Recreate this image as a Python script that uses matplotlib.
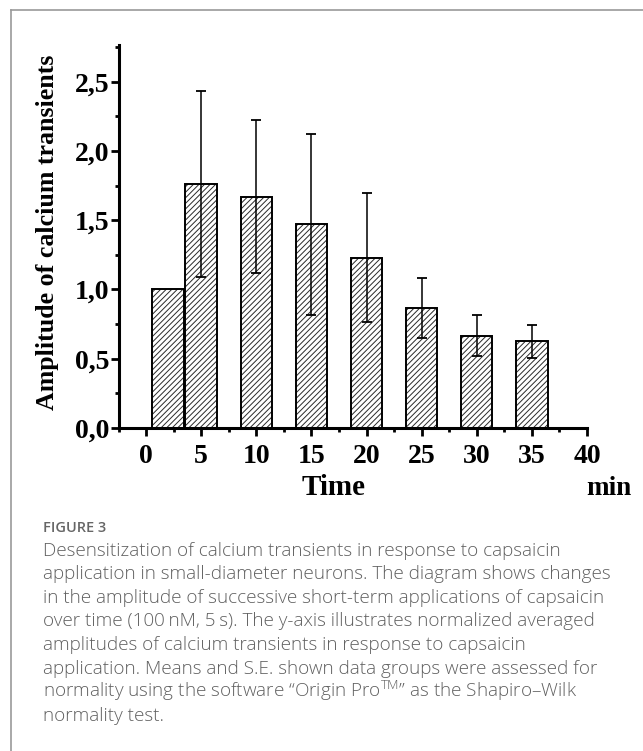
import matplotlib
matplotlib.use("Agg")
import matplotlib.pyplot as plt
from matplotlib.ticker import FixedLocator, FuncFormatter
from matplotlib.lines import Line2D
from matplotlib.font_manager import FontProperties

# ---- data ----
positions = [2, 5, 10, 15, 20, 25, 30, 35]
amplitudes = [1.00, 1.76, 1.67, 1.47, 1.23, 0.865, 0.665, 0.625]
errors = [0.0, 0.67, 0.55, 0.655, 0.467, 0.218, 0.148, 0.119]
xticks = [0, 5, 10, 15, 20, 25, 30, 35, 40]
yticks = [0.0, 0.5, 1.0, 1.5, 2.0, 2.5]

caption_title = "FIGURE 3"
caption_lines = [
    "Desensitization of calcium transients in response to capsaicin",
    "application in small-diameter neurons. The diagram shows changes",
    "in the amplitude of successive short-term applications of capsaicin",
    "over time (100\u2009nM, 5\u2009s). The y-axis illustrates normalized averaged",
    "amplitudes of calcium transients in response to capsaicin",
    "application. Means and S.E. shown data groups were assessed for",
    "normality using the software \u201cOrigin Pro$^{\\rm TM}$\u201d as the Shapiro\u2013Wilk",
    "normality test.",
]

W, H = 643, 751
plt.rcParams['hatch.linewidth'] = 0.7
plt.rcParams['mathtext.fontset'] = 'custom'
plt.rcParams['mathtext.rm'] = 'Open Sans:light'

fig = plt.figure(figsize=(W / 100, H / 100), dpi=100)
fig.patch.set_facecolor('white')

ax_l, ax_r, ax_t, ax_b = 118.5, 587, 45, 428
ax = fig.add_axes([ax_l / W, 1 - ax_b / H, (ax_r - ax_l) / W, (ax_b - ax_t) / H])

bw = 2.85
ax.bar(positions, amplitudes, width=bw, color='white', edgecolor='#2a2a2a',
       linewidth=0, hatch='//////', zorder=2)
ax.bar(positions, amplitudes, width=bw, fill=False, edgecolor='black',
       linewidth=1.4, zorder=3)
ax.errorbar(positions[1:], amplitudes[1:], yerr=errors[1:], fmt='none',
            ecolor='black', elinewidth=1.1, capsize=3.5, capthick=1.3, zorder=4)

ax.set_xlim(-2.5, 40)
ax.set_ylim(0, 2.765)
for s in ['top', 'right']:
    ax.spines[s].set_visible(False)
for s in ['left', 'bottom']:
    ax.spines[s].set_linewidth(2.2)

ax.xaxis.set_major_locator(FixedLocator(xticks))
ax.xaxis.set_minor_locator(FixedLocator([-2.5 + 5 * i for i in range(9)]))
ax.yaxis.set_major_locator(FixedLocator(yticks))
ax.yaxis.set_minor_locator(FixedLocator([0.25 + 0.5 * i for i in range(6)]))
ax.yaxis.set_major_formatter(FuncFormatter(lambda v, p: f"{v:.1f}".replace('.', ',')))
ax.set_xticklabels([str(t) for t in xticks])

tf = FontProperties(family='Liberation Serif', weight='bold', size=20)
ax.tick_params(which='major', direction='out', length=5.5, width=2.0)
ax.tick_params(which='minor', direction='out', length=3, width=2.0)
ax.tick_params(axis='x', which='major', pad=6)
ax.tick_params(axis='y', which='major', pad=1)
for lab in ax.get_xticklabels() + ax.get_yticklabels():
    lab.set_fontproperties(tf)

fig.text(59 / W, 1 - 232 / H, "Amplitude of calcium transients", rotation=90,
         ha='right', va='center', family='Liberation Serif', weight='bold', size=18.6)
fig.text(334 / W, 1 - 495 / H, "Time", ha='center', va='baseline',
         family='Liberation Serif', weight='bold', size=21)
fig.text(586 / W, 1 - 495 / H, "min", ha='left', va='baseline',
         family='Liberation Serif', weight='bold', size=19.5)

# border
fig.add_artist(Line2D([11 / W, 11 / W], [0, 1 - 10 / H], transform=fig.transFigure,
                      color='#9a9a9a', lw=1.2))
fig.add_artist(Line2D([11 / W, 1], [1 - 10 / H, 1 - 10 / H], transform=fig.transFigure,
                      color='#9a9a9a', lw=1.2))

# caption
fig.text(43 / W, 1 - 531.7 / H, caption_title, ha='left', va='baseline',
         family='Open Sans', weight='semibold', size=10.5, color='#666666')
for i, line in enumerate(caption_lines):
    fig.text(43 / W, 1 - (555.7 + i * 23.6) / H, line, ha='left', va='baseline',
             family='Open Sans', weight='light', size=13.6, color='#606060')

fig.savefig('out.png', dpi=100)
